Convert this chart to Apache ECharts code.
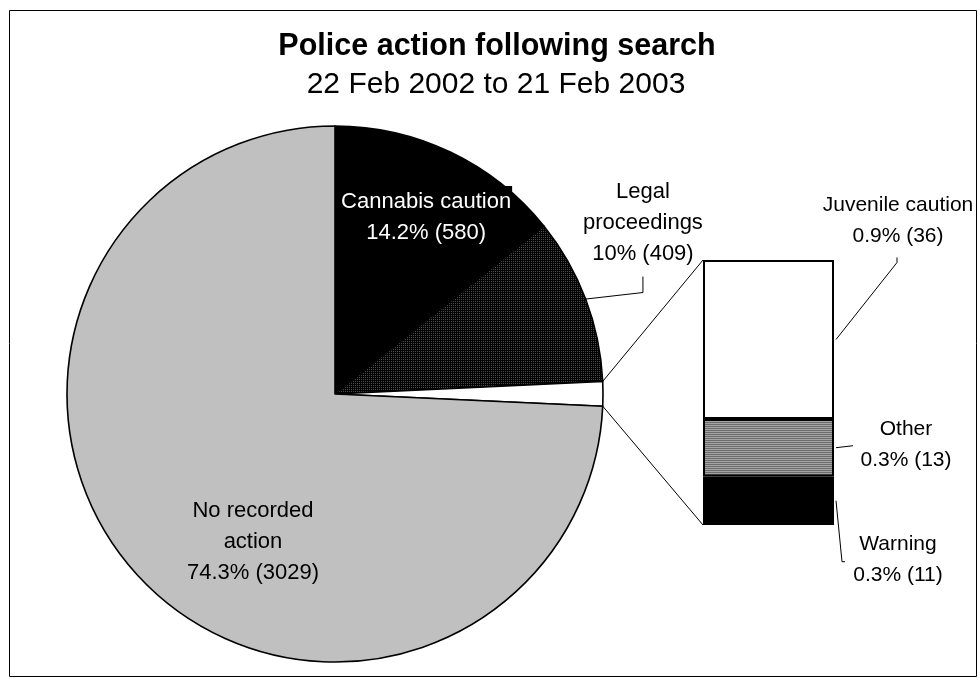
<!DOCTYPE html>
<html>
<head>
<meta charset="utf-8">
<script src="https://cdn.jsdelivr.net/npm/echarts@6/dist/echarts.min.js"></script>
<style>
  html, body { margin: 0; padding: 0; background: #fff; }
  #chart { width: 980px; height: 679px; }
</style>
</head>
<body>
<div id="chart"></div>
<script>
// Police action following search, 22 Feb 2002 to 21 Feb 2003 (bar-of-pie)
const titleText = 'Police action following search';
const subtitleText = '22 Feb 2002 to 21 Feb 2003';

// main pie slices
const mainNames  = ['Cannabis caution', 'Legal proceedings', 'No recorded action'];
const mainLabels = ['Cannabis caution', 'Legal\nproceedings', 'No recorded\naction'];
const mainValues = [580, 409, 3029];

// the small actions, grouped into one pie slice and split out in the bar
const detailNames  = ['Juvenile caution', 'Other', 'Warning'];
const detailValues = [36, 13, 11];
const groupName = 'Other actions';

// ---- layout ----
const FONT = "'Liberation Sans', Arial, Helvetica, sans-serif";
const PIE = { cx: 335, cy: 394, r: 268 };
const GRID = { left: 703, top: 260, width: 131, height: 265 };
const PIE_LABEL_SIZE = 22, BAR_LABEL_SIZE = 21, LABEL_LH = 31;

const sum = a => a.reduce((s, v) => s + v, 0);
const groupValue = sum(detailValues);
const total = sum(mainValues) + groupValue;
const pct = v => (v / total * 100).toFixed(1).replace(/\.0$/, '') + '%';

// pie order, clockwise from 12 o'clock
const pieData = [
  { name: mainNames[0], label: mainLabels[0], value: mainValues[0] },
  { name: mainNames[1], label: mainLabels[1], value: mainValues[1] },
  { name: groupName, label: null, value: groupValue },
  { name: mainNames[2], label: mainLabels[2], value: mainValues[2] }
];

// fill patterns
function makePattern(w, h, draw) {
  const c = document.createElement('canvas');
  c.width = w; c.height = h;
  draw(c.getContext('2d'));
  return { image: c, repeat: 'repeat' };
}
const dotted = makePattern(2, 2, g => {
  g.fillStyle = '#000'; g.fillRect(0, 0, 2, 2);
  g.fillStyle = '#4c4c4c'; g.fillRect(1, 1, 1, 1);
});
const striped = makePattern(2, 2, g => {
  g.fillStyle = '#6c6c6c'; g.fillRect(0, 0, 2, 1);
  g.fillStyle = '#a4a4a4'; g.fillRect(0, 1, 2, 1);
});

const pieColors = ['#000000', dotted, '#ffffff', '#c0c0c0'];
const detailColors = ['#ffffff', striped, '#000000'];

// angles (degrees from 12 o'clock, clockwise)
const pieAngles = [];
(function () {
  let a = 0;
  pieData.forEach(d => {
    const span = d.value / total * 360;
    pieAngles.push({ start: a, end: a + span, mid: a + span / 2 });
    a += span;
  });
})();
const piePoint = (deg, k) => {
  const t = deg * Math.PI / 180;
  return [PIE.cx + PIE.r * k * Math.sin(t), PIE.cy - PIE.r * k * Math.cos(t)];
};

// label anchors as multiples of the radius from the pie centre
const pieLabelSpot = { 0: [0.34, -0.66], 1: [1.149, -0.638], 3: [-0.306, 0.552] };
// bar label offsets from the right middle of each segment
const barLabelOffset = { 'Juvenile caution': [64, -119], 'Other': [72, -3], 'Warning': [64, 59] };

const pieLabelPos = i => [PIE.cx + pieLabelSpot[i][0] * PIE.r, PIE.cy + pieLabelSpot[i][1] * PIE.r];

const chart = echarts.init(document.getElementById('chart'), null, { renderer: 'canvas' });

// bars stack bottom-up, so the series run in reverse order of the names
const barOrder = detailNames.map((_, i) => detailNames.length - 1 - i);
const barSeries = barOrder.map(i => ({
  type: 'bar',
  name: detailNames[i],
  stack: 'detail',
  barWidth: '100%',
  data: [detailValues[i]],
  itemStyle: { color: detailColors[i], borderColor: '#000', borderWidth: 2 },
  label: {
    show: true,
    formatter: p => p.seriesName + '\n' + pct(p.value) + ' (' + p.value + ')',
    color: '#000',
    fontFamily: FONT,
    fontSize: BAR_LABEL_SIZE,
    lineHeight: LABEL_LH,
    align: 'center'
  },
  labelLayout: p => {
    const name = detailNames[barOrder[p.seriesIndex - 1]];
    const off = barLabelOffset[name];
    if (!off) return {};
    return {
      x: p.rect.x + p.rect.width + off[0],
      y: p.rect.y + p.rect.height / 2 + off[1],
      align: 'center',
      verticalAlign: 'middle'
    };
  }
}));

chart.setOption({
  backgroundColor: '#fff',
  animation: false,
  title: [
    {
      text: titleText, left: 492, top: 26, textAlign: 'center',
      textStyle: { fontFamily: FONT, fontSize: 30.5, fontWeight: 'bold', color: '#000' }
    },
    {
      text: subtitleText, left: 491, top: 65, textAlign: 'center',
      textStyle: { fontFamily: FONT, fontSize: 30, fontWeight: 'normal', color: '#000' }
    }
  ],
  grid: { left: GRID.left, top: GRID.top, width: GRID.width, height: GRID.height },
  xAxis: { type: 'category', data: [''], show: false },
  yAxis: { type: 'value', min: 0, max: groupValue, show: false },
  series: [
    {
      type: 'pie',
      center: [PIE.cx, PIE.cy],
      radius: PIE.r,
      startAngle: 90,
      clockwise: true,
      avoidLabelOverlap: false,
      silent: true,
      data: pieData.map((d, i) => ({
        name: d.name,
        value: d.value,
        itemStyle: { color: pieColors[i] },
        label: {
          show: d.label !== null,
          color: i === 0 ? '#fff' : '#000',
          backgroundColor: i === 0 ? '#000' : 'transparent',
          padding: i === 0 ? [0, 1] : 0
        }
      })),
      itemStyle: { borderColor: '#000', borderWidth: 1.6 },
      label: {
        fontFamily: FONT,
        fontSize: PIE_LABEL_SIZE,
        lineHeight: LABEL_LH,
        align: 'center',
        formatter: p => (pieData[p.dataIndex].label || '') + '\n' + pct(p.value) + ' (' + p.value + ')'
      },
      labelLine: { show: false },
      labelLayout: p => {
        if (!pieLabelSpot[p.dataIndex]) return {};
        const pos = pieLabelPos(p.dataIndex);
        return { x: pos[0], y: pos[1], align: 'center', verticalAlign: 'middle' };
      }
    }
  ].concat(barSeries)
});

// ---- connector and leader lines, from the pie and bar geometry ----
const yPx = v => chart.convertToPixel({ yAxisIndex: 0 }, v);
const barRight = GRID.left + GRID.width;
const lineStyle = { stroke: '#000', lineWidth: 1, fill: null };
const graphics = [];

// frame round the whole chart
graphics.push({
  type: 'rect', shape: { x: 9.5, y: 10.5, width: 967, height: 666 },
  style: { stroke: '#000', lineWidth: 1, fill: null }, silent: true
});

// pie group slice to bar
const grp = pieAngles[2];
const gTop = piePoint(grp.start, 1), gBot = piePoint(grp.end, 1);
graphics.push({ type: 'line', shape: { x1: gTop[0], y1: gTop[1], x2: GRID.left, y2: yPx(groupValue) }, style: lineStyle, silent: true });
graphics.push({ type: 'line', shape: { x1: gBot[0], y1: gBot[1], x2: GRID.left, y2: yPx(0) }, style: lineStyle, silent: true });

// leader for the Legal proceedings label
(function () {
  const edge = piePoint(pieAngles[1].mid, 1);
  const pos = pieLabelPos(1);
  const bottom = pos[1] + LABEL_LH * 1.5;
  graphics.push({ type: 'polyline', shape: { points: [edge, [pos[0], bottom + 23], [pos[0], bottom + 7]] }, style: lineStyle, silent: true });
})();

// leaders for the bar labels
(function () {
  const segs = {};
  let base = 0;
  barOrder.forEach(i => {
    const y0 = yPx(base), y1 = yPx(base + detailValues[i]);
    segs[detailNames[i]] = (y0 + y1) / 2;
    base += detailValues[i];
  });
  const start = n => [barRight + 2, segs[n]];
  const at = n => [barRight + barLabelOffset[n][0], segs[n] + barLabelOffset[n][1]];

  let s = start('Juvenile caution'), c = at('Juvenile caution');
  const bottom = c[1] + LABEL_LH;
  graphics.push({ type: 'polyline', shape: { points: [s, [c[0] - 1, bottom + 11], [c[0] - 1, bottom + 6]] }, style: lineStyle, silent: true });

  s = start('Other'); c = at('Other');
  graphics.push({ type: 'polyline', shape: { points: [s, [c[0] - 53, c[1] + 1]] }, style: lineStyle, silent: true });

  s = start('Warning'); c = at('Warning');
  graphics.push({ type: 'polyline', shape: { points: [s, [c[0] - 56, c[1] + 2], [c[0] - 53, c[1] + 2]] }, style: lineStyle, silent: true });
})();

chart.setOption({ graphic: graphics });
</script>
</body>
</html>
